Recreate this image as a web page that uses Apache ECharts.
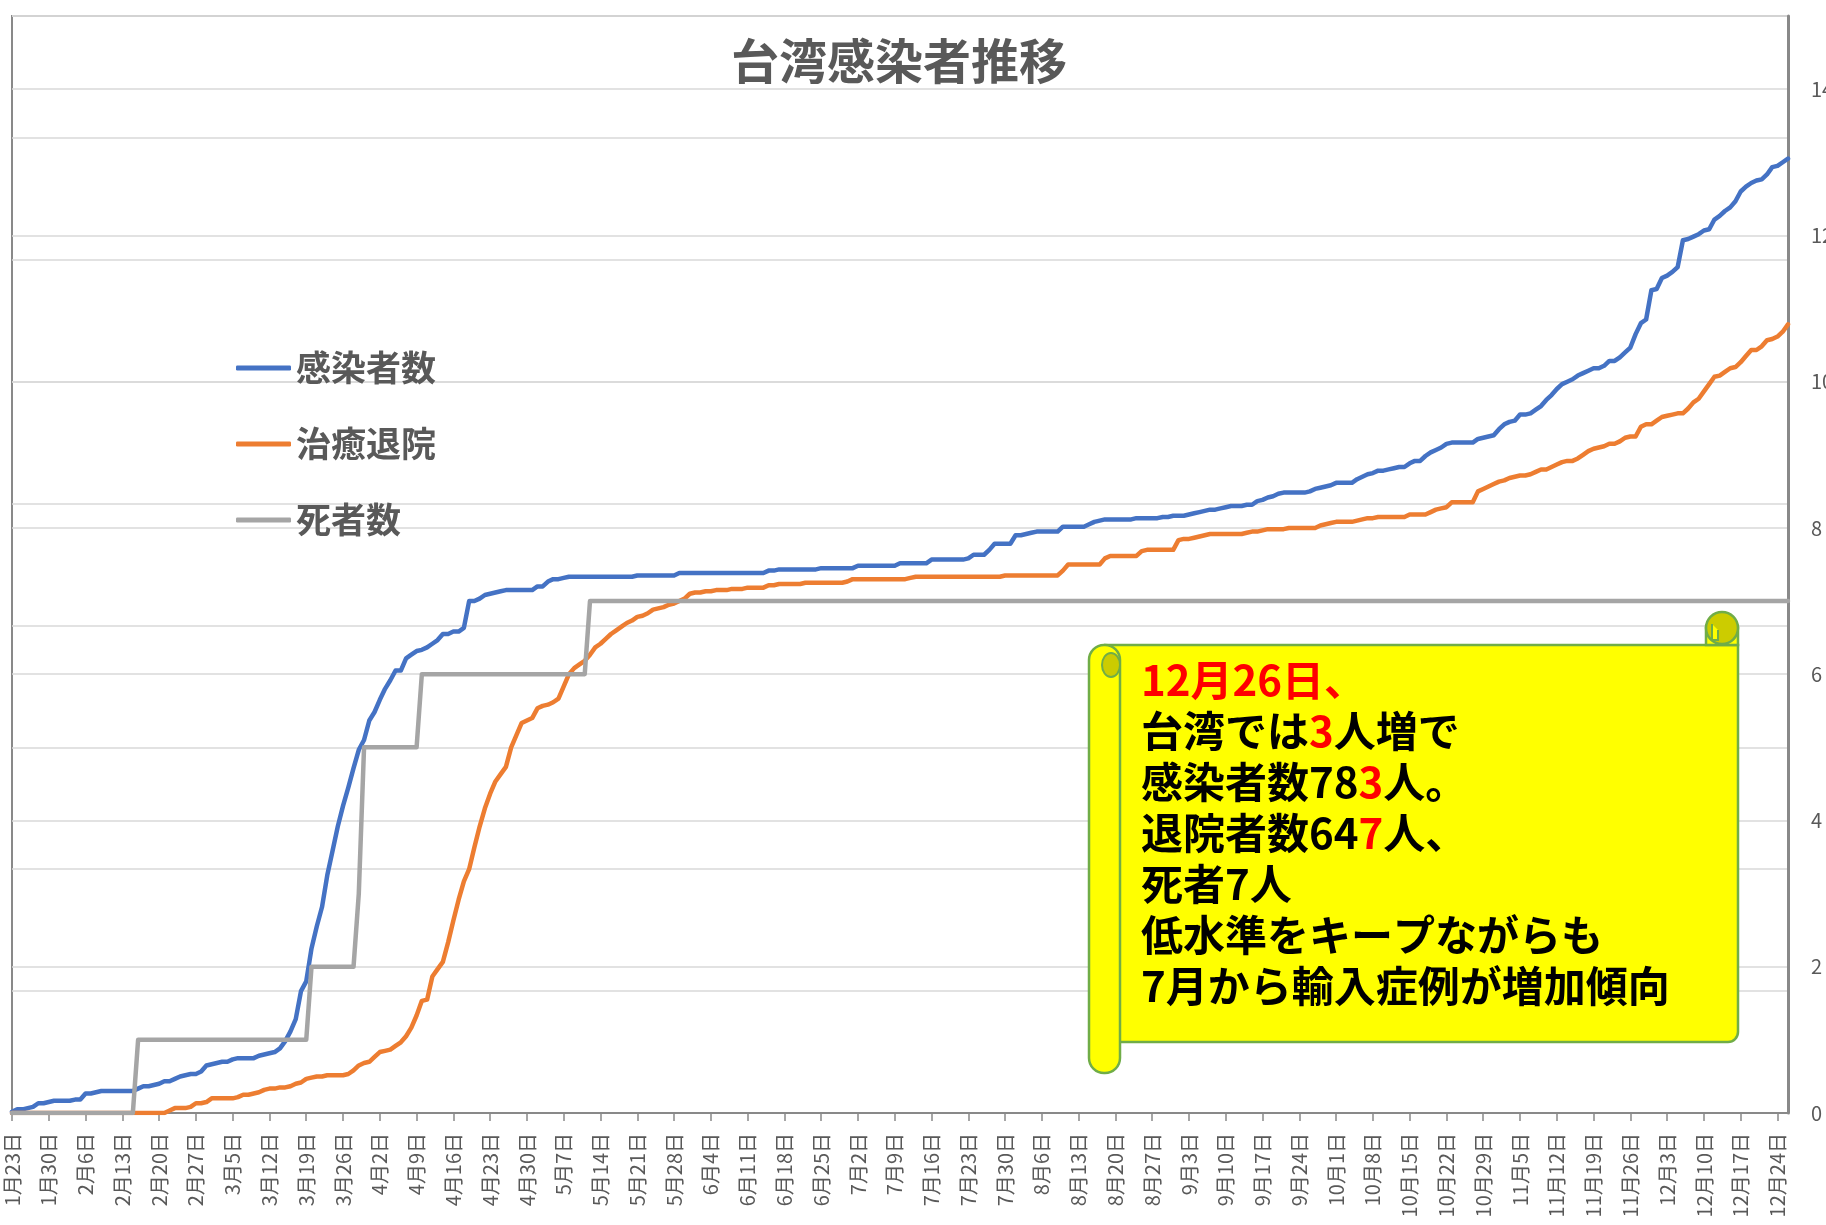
<!DOCTYPE html>
<html lang="ja">
<head>
<meta charset="utf-8">
<title>台湾感染者推移</title>
<script src="https://cdn.jsdelivr.net/npm/echarts@6.0.0/dist/echarts.min.js"></script>
<style>
  html, body { margin: 0; padding: 0; background: #fff; }
  #main { width: 1826px; height: 1225px; }
</style>
</head>
<body>
<div id="main"></div>
<script>
// 日付 (1月23日 ～ 12月26日, 2020年)
const monthDays = [31, 29, 31, 30, 31, 30, 31, 31, 30, 31, 30, 31];
const dates = [];
for (let m = 1; m <= 12; m++) {
  for (let d = 1; d <= monthDays[m - 1]; d++) {
    if (m === 1 && d < 23) continue;
    if (m === 12 && d > 26) continue;
    dates.push(m + '月' + d + '日');
  }
}

// 感染者数 (左軸)
const infected = [
  1, 3, 3, 4, 5, 8, 8, 9, 10, 10,
  10, 10, 11, 11, 16, 16, 17, 18, 18, 18,
  18, 18, 18, 18, 20, 22, 22, 23, 24, 26,
  26, 28, 30, 31, 32, 32, 34, 39, 40, 41,
  42, 42, 44, 45, 45, 45, 45, 47, 48, 49,
  50, 53, 59, 67, 77, 100, 108, 135, 153, 169,
  195, 215, 235, 252, 267, 283, 298, 306, 322, 329,
  339, 348, 355, 363, 363, 373, 376, 379, 380, 382,
  385, 388, 393, 393, 395, 395, 398, 420, 420, 422,
  425, 426, 427, 428, 429, 429, 429, 429, 429, 429,
  432, 432, 436, 438, 438, 439, 440, 440, 440, 440,
  440, 440, 440, 440, 440, 440, 440, 440, 440, 441,
  441, 441, 441, 441, 441, 441, 441, 443, 443, 443,
  443, 443, 443, 443, 443, 443, 443, 443, 443, 443,
  443, 443, 443, 443, 445, 445, 446, 446, 446, 446,
  446, 446, 446, 446, 447, 447, 447, 447, 447, 447,
  447, 449, 449, 449, 449, 449, 449, 449, 449, 451,
  451, 451, 451, 451, 451, 454, 454, 454, 454, 454,
  454, 454, 455, 458, 458, 458, 462, 467, 467, 467,
  467, 474, 474, 475, 476, 477, 477, 477, 477, 477,
  481, 481, 481, 481, 481, 483, 485, 486, 487, 487,
  487, 487, 487, 487, 488, 488, 488, 488, 488, 489,
  489, 490, 490, 490, 491, 492, 493, 494, 495, 495,
  496, 497, 498, 498, 498, 499, 499, 502, 503, 505,
  506, 508, 509, 509, 509, 509, 509, 510, 512, 513,
  514, 515, 517, 517, 517, 517, 520, 522, 524, 525,
  527, 527, 528, 529, 530, 530, 533, 535, 535, 539,
  542, 544, 546, 549, 550, 550, 550, 550, 550, 553,
  554, 555, 556, 561, 565, 567, 568, 573, 573, 574,
  577, 580, 585, 589, 594, 598, 600, 602, 605, 607,
  609, 611, 611, 613, 617, 617, 620, 624, 628, 639,
  648, 651, 675, 676, 685, 687, 690, 694, 716, 717,
  719, 721, 724, 725, 733, 736, 740, 743, 748, 756,
  760, 763, 765, 766, 770, 776, 777, 780, 783
];

// 治癒退院 (左軸)
const recovered = [
  0, 0, 0, 0, 0, 0, 0, 0, 0, 0,
  0, 0, 0, 0, 0, 0, 0, 0, 0, 0,
  0, 0, 0, 0, 0, 0, 0, 0, 0, 0,
  2, 4, 4, 4, 5, 8, 8, 9, 12, 12,
  12, 12, 12, 13, 15, 15, 16, 17, 19, 20,
  20, 21, 21, 22, 24, 25, 28, 29, 30, 30,
  31, 31, 31, 31, 32, 35, 39, 41, 42, 46,
  50, 51, 52, 55, 58, 63, 70, 80, 92, 93,
  112, 118, 124, 140, 158, 175, 190, 200, 218, 235,
  250, 262, 272, 278, 284, 300, 310, 320, 322, 324,
  332, 334, 335, 337, 340, 350, 360, 365, 368, 371,
  376, 382, 385, 389, 393, 396, 399, 402, 404, 407,
  408, 410, 413, 414, 415, 417, 418, 420, 422, 426,
  427, 427, 428, 428, 429, 429, 429, 430, 430, 430,
  431, 431, 431, 431, 433, 433, 434, 434, 434, 434,
  434, 435, 435, 435, 435, 435, 435, 435, 435, 436,
  438, 438, 438, 438, 438, 438, 438, 438, 438, 438,
  438, 439, 440, 440, 440, 440, 440, 440, 440, 440,
  440, 440, 440, 440, 440, 440, 440, 440, 440, 441,
  441, 441, 441, 441, 441, 441, 441, 441, 441, 441,
  445, 450, 450, 450, 450, 450, 450, 450, 455, 457,
  457, 457, 457, 457, 457, 461, 462, 462, 462, 462,
  462, 462, 470, 471, 471, 472, 473, 474, 475, 475,
  475, 475, 475, 475, 475, 476, 477, 477, 478, 479,
  479, 479, 479, 480, 480, 480, 480, 480, 480, 482,
  483, 484, 485, 485, 485, 485, 486, 487, 488, 488,
  489, 489, 489, 489, 489, 489, 491, 491, 491, 491,
  493, 495, 496, 497, 501, 501, 501, 501, 501, 510,
  512, 514, 516, 518, 519, 521, 522, 523, 523, 524,
  526, 528, 528, 530, 532, 534, 535, 535, 537, 540,
  543, 545, 546, 547, 549, 549, 551, 554, 555, 555,
  563, 565, 565, 568, 571, 572, 573, 574, 574, 578,
  583, 586, 592, 598, 604, 605, 608, 611, 612, 616,
  621, 626, 626, 629, 634, 635, 637, 641, 647
];

// 死者数 (右軸)
const deaths = [
  0, 0, 0, 0, 0, 0, 0, 0, 0, 0,
  0, 0, 0, 0, 0, 0, 0, 0, 0, 0,
  0, 0, 0, 0, 1, 1, 1, 1, 1, 1,
  1, 1, 1, 1, 1, 1, 1, 1, 1, 1,
  1, 1, 1, 1, 1, 1, 1, 1, 1, 1,
  1, 1, 1, 1, 1, 1, 1, 2, 2, 2,
  2, 2, 2, 2, 2, 2, 3, 5, 5, 5,
  5, 5, 5, 5, 5, 5, 5, 5, 6, 6,
  6, 6, 6, 6, 6, 6, 6, 6, 6, 6,
  6, 6, 6, 6, 6, 6, 6, 6, 6, 6,
  6, 6, 6, 6, 6, 6, 6, 6, 6, 6,
  7, 7, 7, 7, 7, 7, 7, 7, 7, 7,
  7, 7, 7, 7, 7, 7, 7, 7, 7, 7,
  7, 7, 7, 7, 7, 7, 7, 7, 7, 7,
  7, 7, 7, 7, 7, 7, 7, 7, 7, 7,
  7, 7, 7, 7, 7, 7, 7, 7, 7, 7,
  7, 7, 7, 7, 7, 7, 7, 7, 7, 7,
  7, 7, 7, 7, 7, 7, 7, 7, 7, 7,
  7, 7, 7, 7, 7, 7, 7, 7, 7, 7,
  7, 7, 7, 7, 7, 7, 7, 7, 7, 7,
  7, 7, 7, 7, 7, 7, 7, 7, 7, 7,
  7, 7, 7, 7, 7, 7, 7, 7, 7, 7,
  7, 7, 7, 7, 7, 7, 7, 7, 7, 7,
  7, 7, 7, 7, 7, 7, 7, 7, 7, 7,
  7, 7, 7, 7, 7, 7, 7, 7, 7, 7,
  7, 7, 7, 7, 7, 7, 7, 7, 7, 7,
  7, 7, 7, 7, 7, 7, 7, 7, 7, 7,
  7, 7, 7, 7, 7, 7, 7, 7, 7, 7,
  7, 7, 7, 7, 7, 7, 7, 7, 7, 7,
  7, 7, 7, 7, 7, 7, 7, 7, 7, 7,
  7, 7, 7, 7, 7, 7, 7, 7, 7, 7,
  7, 7, 7, 7, 7, 7, 7, 7, 7, 7,
  7, 7, 7, 7, 7, 7, 7, 7, 7, 7,
  7, 7, 7, 7, 7, 7, 7, 7, 7
];

const seriesNames = ['感染者数', '治癒退院', '死者数'];
const seriesColors = ['#4472C4', '#ED7D31', '#A5A5A5'];

const FONT = '"Noto Sans CJK JP", "Noto Sans", sans-serif';

// 吹き出し (巻物) のテキスト
const noteLines = [
  '{r|12月26日、}',
  '台湾では{r|3}人増で',
  '感染者数78{r|3}人。',
  '退院者数64{r|7}人、',
  '死者7人',
  '低水準をキープながらも',
  '7月から輸入症例が増加傾向'
];

const chart = echarts.init(document.getElementById('main'));

const lineSeries = (name, data, color, yIndex) => ({
  name: name,
  type: 'line',
  yAxisIndex: yIndex,
  data: data,
  showSymbol: false,
  symbol: 'none',
  smooth: false,
  lineStyle: { color: color, width: 4.5, cap: 'round', join: 'round' },
  itemStyle: { color: color },
  emphasis: { disabled: true }
});

const splitStyle = { show: true, lineStyle: { color: '#D9D9D9', width: 1.5 } };

chart.setOption({
  animation: false,
  backgroundColor: '#fff',
  title: {
    text: '台湾感染者推移',
    left: 894,
    top: 32,
    textAlign: 'center',
    textStyle: { fontFamily: FONT, fontSize: 48, fontWeight: 'bold', color: '#595959' }
  },
  legend: {
    orient: 'vertical',
    left: 231,
    top: 345,
    itemGap: 40,
    itemWidth: 55,
    itemHeight: 5,
    icon: 'roundRect',
    data: seriesNames,
    textStyle: { fontFamily: FONT, fontSize: 35, fontWeight: 'bold', color: '#595959', lineHeight: 36 }
  },
  grid: {
    left: 12,
    right: 38,
    top: 16,
    bottom: 112,
    show: true,
    borderColor: '#898989',
    borderWidth: 2,
    containLabel: false,
    // ラベルがはみ出しても枠を縮めない
    outerBoundsMode: 'none'
  },
  xAxis: {
    type: 'category',
    data: dates,
    boundaryGap: false,
    axisLine: { show: true, lineStyle: { color: '#898989', width: 2 } },
    axisTick: { show: true, interval: 6, length: 8, lineStyle: { color: '#898989', width: 1.5 } },
    axisLabel: {
      interval: 6,
      rotate: 90,
      margin: 20,
      fontFamily: FONT,
      fontSize: 20,
      color: '#595959'
    },
    splitLine: { show: false }
  },
  yAxis: [
    {
      type: 'value',
      min: 0,
      max: 900,
      interval: 100,
      axisLabel: { show: false },
      axisLine: { show: false },
      axisTick: { show: false },
      splitLine: splitStyle
    },
    {
      type: 'value',
      position: 'right',
      min: 0,
      max: 15,
      interval: 2,
      axisLine: { show: true, lineStyle: { color: '#898989', width: 3 } },
      axisTick: { show: false },
      axisLabel: {
        margin: 23,
        fontFamily: FONT,
        fontSize: 20,
        color: '#595959',
        formatter: v => (v > 14 ? '' : v)
      },
      splitLine: splitStyle
    }
  ],
  series: [
    lineSeries(seriesNames[0], infected, seriesColors[0], 0),
    lineSeries(seriesNames[1], recovered, seriesColors[1], 0),
    lineSeries(seriesNames[2], deaths, seriesColors[2], 1)
  ],
  graphic: [
    // 本体
    {
      type: 'rect',
      z: 100,
      shape: { x: 1104, y: 645, width: 634, height: 397, r: [0, 0, 10, 0] },
      style: { fill: '#FFFF00', stroke: '#70AD47', lineWidth: 2.5 }
    },
    // 右上の巻き
    {
      type: 'rect',
      z: 100,
      shape: { x: 1706, y: 628, width: 32, height: 17 },
      style: { fill: '#FFFF00', stroke: '#70AD47', lineWidth: 2.5 }
    },
    {
      type: 'circle',
      z: 101,
      shape: { cx: 1722, cy: 628, r: 16 },
      style: { fill: '#CCCC00', stroke: '#70AD47', lineWidth: 2.5 }
    },
    {
      type: 'polyline',
      z: 102,
      shape: { points: [[1712, 624], [1712, 640], [1718, 640], [1718, 630]] },
      style: { fill: '#FFFF00', stroke: '#70AD47', lineWidth: 2 }
    },
    // 左の巻き
    {
      type: 'rect',
      z: 101,
      shape: { x: 1089, y: 645, width: 31, height: 428, r: 15 },
      style: { fill: '#FFFF00', stroke: '#70AD47', lineWidth: 2.5 }
    },
    {
      type: 'ellipse',
      z: 102,
      shape: { cx: 1111, cy: 665, rx: 9, ry: 12 },
      style: { fill: '#CCCC00', stroke: '#70AD47', lineWidth: 2 }
    },
    // 本文
    {
      type: 'text',
      z: 103,
      x: 1141,
      y: 655,
      style: {
        text: noteLines.join('\n'),
        fill: '#000000',
        fontFamily: FONT,
        fontSize: 42,
        fontWeight: 'bold',
        lineHeight: 51,
        verticalAlign: 'top',
        align: 'left',
        rich: {
          r: { fill: '#FF0000', color: '#FF0000', fontFamily: FONT, fontSize: 42, fontWeight: 'bold', lineHeight: 51 }
        }
      }
    }
  ]
});

window.addEventListener('resize', () => {
  chart.resize();
});
</script>
</body>
</html>
